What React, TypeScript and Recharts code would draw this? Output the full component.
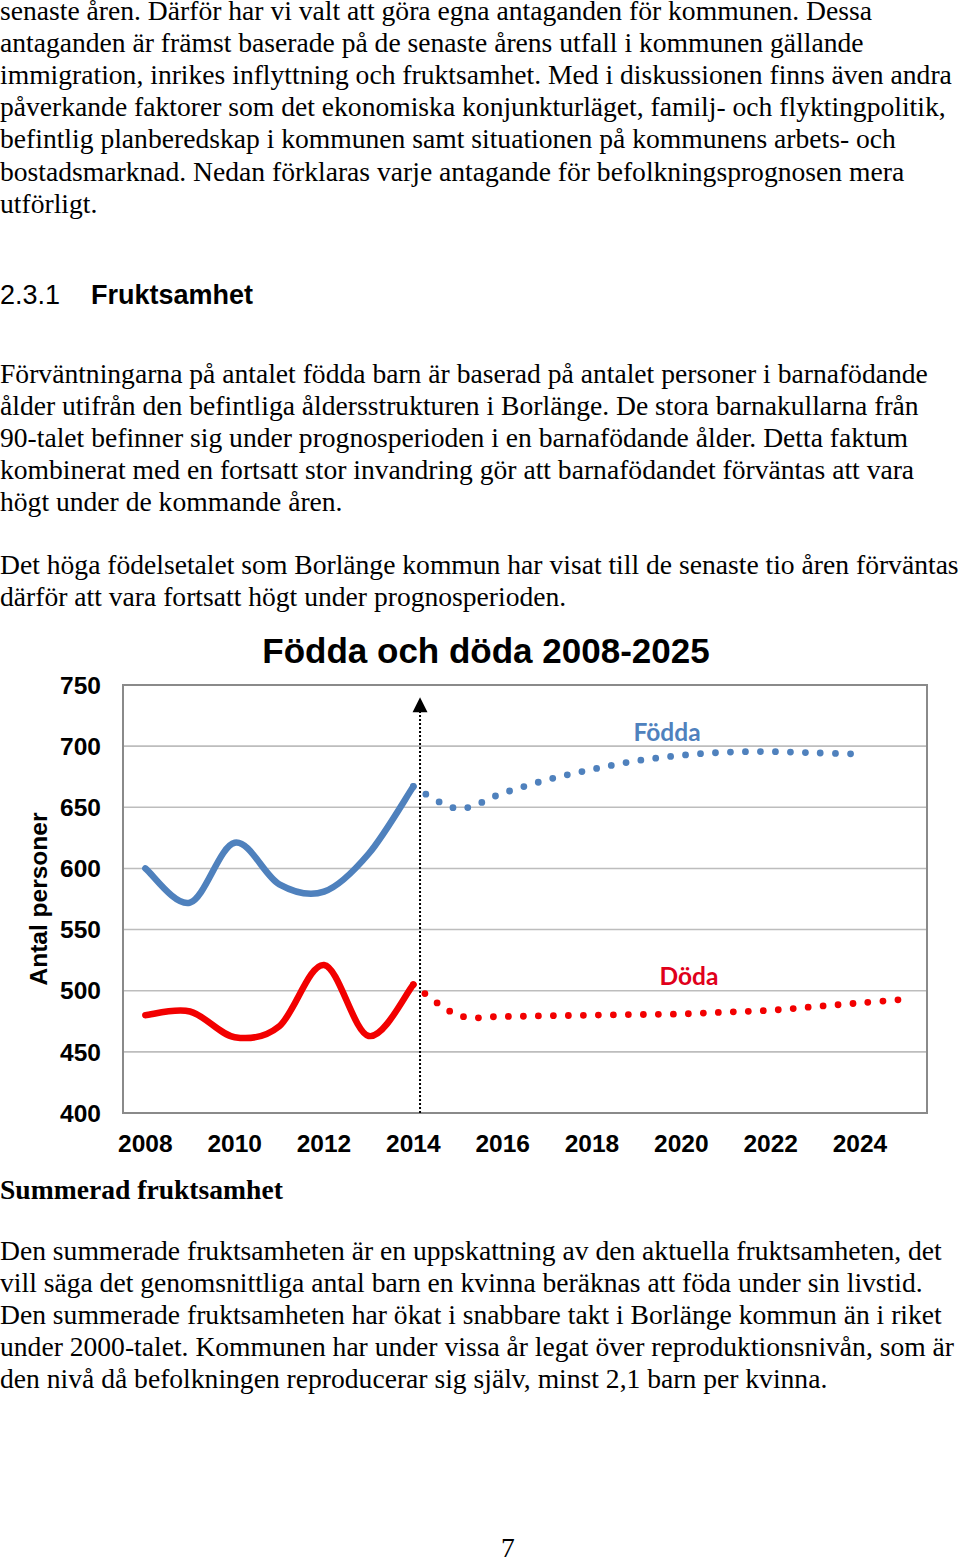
import React from "react";
import {
  LineChart,
  Line,
  XAxis,
  YAxis,
  CartesianGrid,
  ReferenceArea,
  ReferenceLine,
  ReferenceDot,
  Label,
} from "recharts";

// Data
const years = [
  2008, 2009, 2010, 2011, 2012, 2013, 2014, 2015, 2016, 2017, 2018, 2019, 2020,
  2021, 2022, 2023, 2024, 2025,
];
const foddaHistorik = [600, 572, 621, 587, 581, 612, 667]; // 2008-2014
const foddaPrognos = [667, 649, 661.5, 672.5, 681, 688, 692.5, 695, 695.5, 694.5, 693.5]; // 2014-2024
const dodaHistorik = [480, 483, 462, 471, 521, 463, 505]; // 2008-2014
const dodaPrognos = [505, 480, 479, 479.5, 480, 480.5, 481, 482.5, 484, 487, 490, 493]; // 2014-2025
const xTicks = [2008, 2010, 2012, 2014, 2016, 2018, 2020, 2022, 2024];
const yTicks = [400, 450, 500, 550, 600, 650, 700, 750];

const PROGNOS_START = 6; // index of 2014

const chartData = years.map((year, i) => ({
  year,
  foddaHist: i < foddaHistorik.length ? foddaHistorik[i] : null,
  foddaProg:
    i >= PROGNOS_START && i - PROGNOS_START < foddaPrognos.length
      ? foddaPrognos[i - PROGNOS_START]
      : null,
  dodaHist: i < dodaHistorik.length ? dodaHistorik[i] : null,
  dodaProg:
    i >= PROGNOS_START && i - PROGNOS_START < dodaPrognos.length
      ? dodaPrognos[i - PROGNOS_START]
      : null,
}));

const SERIF = '"Liberation Serif", "Times New Roman", serif';
const SANS = '"Liberation Sans", Arial, sans-serif';
const BLUE = "#4f81bd";
const RED = "#f20000";

// Excel style smoothed line (Catmull-Rom through the points)
function excelSmooth(context: any) {
  let pts: number[][] = [];
  return {
    areaStart() {},
    areaEnd() {},
    lineStart() {
      pts = [];
    },
    point(x: number, y: number) {
      pts.push([+x, +y]);
    },
    lineEnd() {
      if (!pts.length) return;
      context.moveTo(pts[0][0], pts[0][1]);
      for (let i = 0; i < pts.length - 1; i++) {
        const p0 = pts[i - 1] || pts[i];
        const p1 = pts[i];
        const p2 = pts[i + 1];
        const p3 = pts[i + 2] || p2;
        context.bezierCurveTo(
          p1[0] + (p2[0] - p0[0]) / 6,
          p1[1] + (p2[1] - p0[1]) / 6,
          p2[0] - (p3[0] - p1[0]) / 6,
          p2[1] - (p3[1] - p1[1]) / 6,
          p2[0],
          p2[1]
        );
      }
    },
  };
}

const para1 = [
  "senaste åren. Därför har vi valt att göra egna antaganden för kommunen. Dessa",
  "antaganden är främst baserade på de senaste årens utfall i kommunen gällande",
  "immigration, inrikes inflyttning och fruktsamhet. Med i diskussionen finns även andra",
  "påverkande faktorer som det ekonomiska konjunkturläget, familj- och flyktingpolitik,",
  "befintlig planberedskap i kommunen samt situationen på kommunens arbets- och",
  "bostadsmarknad. Nedan förklaras varje antagande för befolkningsprognosen mera",
  "utförligt.",
];
const para2 = [
  "Förväntningarna på antalet födda barn är baserad på antalet personer i barnafödande",
  "ålder utifrån den befintliga åldersstrukturen i Borlänge. De stora barnakullarna från",
  "90-talet befinner sig under prognosperioden i en barnafödande ålder. Detta faktum",
  "kombinerat med en fortsatt stor invandring gör att barnafödandet förväntas att vara",
  "högt under de kommande åren.",
];
const para3 = [
  "Det höga födelsetalet som Borlänge kommun har visat till de senaste tio åren förväntas",
  "därför att vara fortsatt högt under prognosperioden.",
];
const para4 = [
  "Den summerade fruktsamheten är en uppskattning av den aktuella fruktsamheten, det",
  "vill säga det genomsnittliga antal barn en kvinna beräknas att föda under sin livstid.",
  "Den summerade fruktsamheten har ökat i snabbare takt i Borlänge kommun än i riket",
  "under 2000-talet. Kommunen har under vissa år legat över reproduktionsnivån, som är",
  "den nivå då befolkningen reproducerar sig själv, minst 2,1 barn per kvinna.",
];

function Paragraph({ top, lines }: { top: number; lines: string[] }) {
  return (
    <div
      style={{
        position: "absolute",
        left: 0,
        top,
        fontFamily: SERIF,
        fontSize: 27.6,
        lineHeight: "32.2px",
        whiteSpace: "nowrap",
        color: "#000",
      }}
    >
      {lines.map((l, i) => (
        <div key={i}>{l}</div>
      ))}
    </div>
  );
}

// annotation positions (data coordinates)
const ARROW_X = 2014.15;
const ARROW_TIP = 740;
const ARROW_BASE = 728;

const tickStyle = { fontFamily: SANS, fontSize: 24.5, fontWeight: 700, fill: "#000" };

function FoddaDodaChart() {
  return (
    <LineChart
      width={960}
      height={553}
      data={chartData}
      margin={{ top: 65, right: 33, bottom: 0, left: 0 }}
    >
      <CartesianGrid vertical={false} stroke="#bdbdbd" strokeWidth={1.6} />
      <XAxis
        dataKey="year"
        type="number"
        domain={[2007.5, 2025.5]}
        ticks={xTicks}
        tickLine={false}
        axisLine={false}
        tick={tickStyle}
        tickMargin={16}
        height={60}
        allowDataOverflow
      />
      <YAxis
        type="number"
        domain={[400, 750]}
        ticks={yTicks}
        tickLine={false}
        axisLine={false}
        tick={tickStyle}
        tickMargin={16}
        width={123}
        allowDataOverflow
      >
        <Label
          content={(props: any) => {
            const vb = props.viewBox || { x: 0, y: 65, width: 123, height: 428 };
            const cx = vb.x + 38;
            const cy = vb.y + vb.height / 2;
            return (
              <text
                x={cx}
                y={cy}
                transform={`rotate(-90 ${cx} ${cy})`}
                textAnchor="middle"
                dominantBaseline="central"
                style={{ fontFamily: SANS, fontSize: 24.5, fontWeight: 700, fill: "#000" }}
              >
                Antal personer
              </text>
            );
          }}
        />
      </YAxis>
      <ReferenceArea
        x1={2007.5}
        x2={2025.5}
        y1={400}
        y2={750}
        fill="none"
        fillOpacity={0}
        stroke="#8a8a8a"
        strokeWidth={2}
      />
      <ReferenceLine
        segment={[
          { x: ARROW_X, y: 400 },
          { x: ARROW_X, y: ARROW_BASE },
        ]}
        stroke="#000"
        strokeWidth={2}
        strokeDasharray="2 2"
      />
      <ReferenceDot
        x={ARROW_X}
        y={ARROW_TIP}
        r={0}
        shape={(p: any) => (
          <polygon
            points={`${p.cx},${p.cy} ${p.cx - 7.5},${p.cy + 15} ${p.cx + 7.5},${p.cy + 15}`}
            fill="#000"
          />
        )}
      />
      <Line
        dataKey="foddaHist"
        type={excelSmooth as any}
        stroke={BLUE}
        strokeWidth={6.5}
        strokeLinecap="round"
        dot={false}
        activeDot={false}
        isAnimationActive={false}
      />
      <Line
        dataKey="foddaProg"
        type={excelSmooth as any}
        stroke={BLUE}
        strokeWidth={6.8}
        strokeLinecap="round"
        strokeDasharray="0 15"
        dot={false}
        activeDot={false}
        isAnimationActive={false}
      />
      <Line
        dataKey="dodaHist"
        type={excelSmooth as any}
        stroke={RED}
        strokeWidth={6.5}
        strokeLinecap="round"
        dot={false}
        activeDot={false}
        isAnimationActive={false}
      />
      <Line
        dataKey="dodaProg"
        type={excelSmooth as any}
        stroke={RED}
        strokeWidth={6.8}
        strokeLinecap="round"
        strokeDasharray="0 15"
        dot={false}
        activeDot={false}
        isAnimationActive={false}
      />
      <ReferenceDot
        x={2019.68}
        y={711}
        r={0}
        label={{
          value: "Födda",
          position: "center",
          fill: BLUE,
          fontSize: 24.5,
          fontWeight: 700,
          fontFamily: "Lato, sans-serif",
        }}
      />
      <ReferenceDot
        x={2020.17}
        y={512}
        r={0}
        label={{
          value: "Döda",
          position: "center",
          fill: "#e0001a",
          fontSize: 24.5,
          fontWeight: 700,
          fontFamily: "Lato, sans-serif",
        }}
      />
    </LineChart>
  );
}

export default function App() {
  return (
    <div
      style={{
        position: "relative",
        width: 960,
        height: 1558,
        overflow: "hidden",
        background: "#fff",
      }}
    >
      <style>{`body{margin:0}`}</style>
      <Paragraph top={-5.5} lines={para1} />
      <div
        style={{
          position: "absolute",
          top: 279,
          left: 0,
          fontFamily: SANS,
          fontSize: 27,
          lineHeight: "32px",
          whiteSpace: "nowrap",
        }}
      >
        <span>2.3.1</span>
        <span style={{ position: "absolute", left: 91, fontWeight: 700 }}>Fruktsamhet</span>
      </div>
      <Paragraph top={357.5} lines={para2} />
      <Paragraph top={549} lines={para3} />
      <div
        style={{
          position: "absolute",
          top: 631,
          left: 0,
          width: 972,
          textAlign: "center",
          fontFamily: SANS,
          fontSize: 35,
          fontWeight: 700,
          lineHeight: "40px",
          whiteSpace: "nowrap",
        }}
      >
        Födda och döda 2008-2025
      </div>
      <div style={{ position: "absolute", left: 0, top: 620 }}>
        <FoddaDodaChart />
      </div>
      <div
        style={{
          position: "absolute",
          top: 1173.5,
          left: 0,
          fontFamily: SERIF,
          fontSize: 27.6,
          fontWeight: 700,
          lineHeight: "32.2px",
          whiteSpace: "nowrap",
        }}
      >
        Summerad fruktsamhet
      </div>
      <Paragraph top={1234.5} lines={para4} />
      <div
        style={{
          position: "absolute",
          top: 1524,
          left: 468,
          width: 80,
          height: 34,
          textAlign: "center",
          fontFamily: SERIF,
          fontSize: 27.6,
          lineHeight: "32.2px",
          paddingTop: 8,
          boxSizing: "border-box",
        }}
      >
        7
      </div>
    </div>
  );
}
